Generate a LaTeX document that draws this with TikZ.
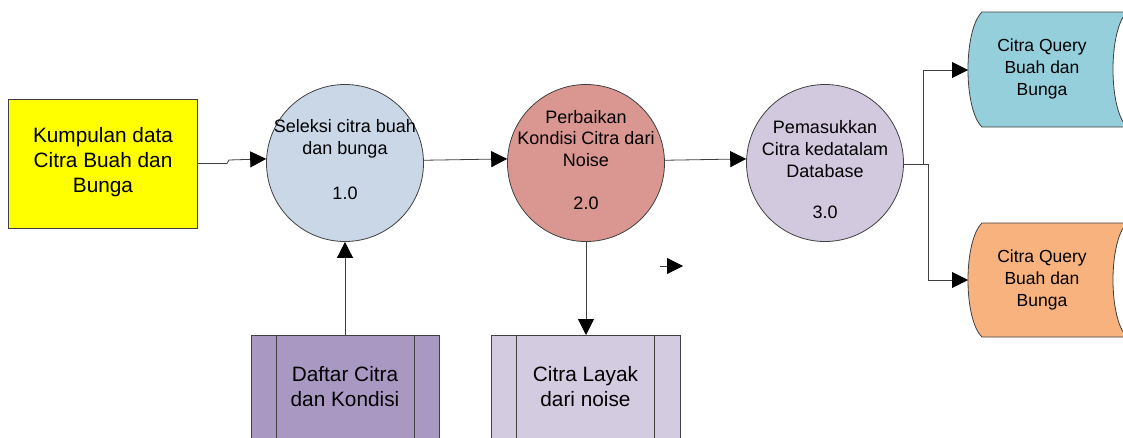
\documentclass[tikz,border=0pt]{standalone}
\usepackage{fontspec}
\setmainfont{Liberation Sans}
\usetikzlibrary{arrows.meta}
\definecolor{linegray}{HTML}{404040}
\definecolor{cyellow}{HTML}{FFFF00}
\definecolor{cone}{HTML}{C9D7E7}
\definecolor{ctwo}{HTML}{DA9690}
\definecolor{cthree}{HTML}{D2C9DF}
\definecolor{sblue}{HTML}{96CFDC}
\definecolor{sorange}{HTML}{F7B27E}
\definecolor{dpurple}{HTML}{A898C2}
\definecolor{lpurple}{HTML}{D3CBE0}
\tikzset{
  proc/.style={circle, draw=linegray, line width=0.8pt, minimum size=157pt, inner sep=0pt},
  conn/.style={draw=linegray, line width=0.8pt, -{Triangle[length=16pt,width=16pt,fill=black,color=black]}},
  plain/.style={draw=linegray, line width=0.8pt},
  shapeline/.style={draw=linegray, line width=0.8pt},
  txtbig/.style={align=center, font=\fontsize{20.8}{25}\selectfont, inner sep=0pt},
  txtsmall/.style={align=center, font=\fontsize{18}{21.8}\selectfont, inner sep=0pt},
  txtstore/.style={align=center, font=\fontsize{17.5}{22}\selectfont, inner sep=0pt},
}
\begin{document}
\begin{tikzpicture}[x=1pt,y=-1pt]
\useasboundingbox (0,0) rectangle (1123,437);
\clip (0,0) rectangle (1123,437);
% source box
\node[draw=linegray, line width=0.8pt, fill=cyellow, minimum width=189pt, minimum height=129pt, inner sep=0pt] (k) at (102.5,163.5) {};
\node[txtbig] (kt) at (103,162.5) {Kumpulan data\\Citra Buah dan\\Bunga};
% processes
\node[proc, fill=cone] (c1) at (345,163) {};
\node[txtsmall] (c1t) at (345,139) {Seleksi citra buah\\dan bunga};
\node[txtsmall] (c1n) at (345,193) {1.0};
\node[proc, fill=ctwo] (c2) at (586,163) {};
\node[txtsmall] (c2t) at (586,138.5) {Perbaikan\\Kondisi Citra dari\\Noise};
\node[txtsmall] (c2n) at (586,203) {2.0};
\node[proc, fill=cthree] (c3) at (825,163) {};
\node[txtsmall] (c3t) at (825,149) {Pemasukkan\\Citra kedatalam\\Database};
\node[txtsmall] (c3n) at (825,212) {3.0};
% stored data shapes
\draw[shapeline, fill=sblue] (982,12) .. controls (963.3,30) and (963.3,109) .. (982,127) -- (1127,127) .. controls (1108.3,109) and (1108.3,30) .. (1127,12) -- cycle;
\coordinate (s1w) at (968,70);
\node[txtstore] (s1t) at (1042,69) {Citra Query\\Buah dan\\Bunga};
\draw[shapeline, fill=sorange] (982,223) .. controls (963.3,241) and (963.3,319) .. (982,337) -- (1127,337) .. controls (1108.3,319) and (1108.3,241) .. (1127,223) -- cycle;
\coordinate (s2w) at (968,280);
\node[txtstore] (s2t) at (1042,279.5) {Citra Query\\Buah dan\\Bunga};
% bottom data stores
\node[draw=linegray, line width=0.8pt, fill=dpurple, minimum width=188pt, minimum height=120pt, anchor=north, inner sep=0pt] (d) at (345,335) {};
\draw[plain] (276,335) -- (276,445);
\draw[plain] (414,335) -- (414,445);
\node[txtbig] (dt) at (345,386.5) {Daftar Citra\\dan Kondisi};
\node[draw=linegray, line width=0.8pt, fill=lpurple, minimum width=189pt, minimum height=120pt, anchor=north, inner sep=0pt] (l) at (585.5,335) {};
\draw[plain] (516,335) -- (516,445);
\draw[plain] (654,335) -- (654,445);
\node[txtbig] (lt) at (585.5,386.5) {Citra Layak\\dari noise};
% connectors
\draw[conn] (k.east) -- (227,163.5) -- (229,160) -- (c1.177.8);
\draw[conn] (c1.2.2) -- (c2.177.8);
\draw[conn] (c2.2.2) -- (c3.177.8);
\draw[conn] (c3.-1.5) -- ++(19,0) |- (s1w);
\draw[conn] (c3.-1.5) -- ++(24,0) |- (s2w);
\draw[conn] (d.north) -- (c1.south);
\draw[conn] (c2.south) -- (l.north -| c2.south);
\coordinate (sa) at (660,266);
\coordinate (sb) at (683,266);
\draw[conn] (sa) -- (sb);
\end{tikzpicture}
\end{document}
